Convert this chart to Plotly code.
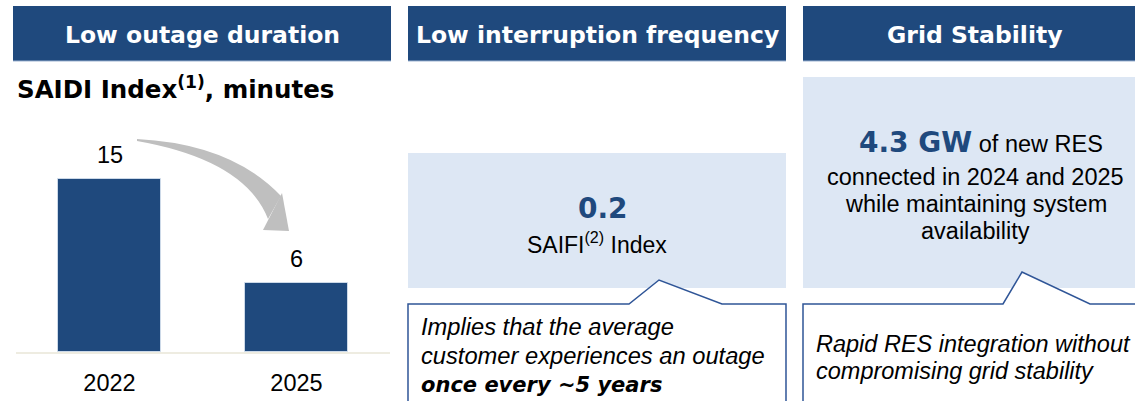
import plotly.graph_objects as go

W, H = 1135, 401

# ---------------- data ----------------
headers = ["Low outage duration", "Low interruption frequency", "Grid Stability"]
years = ["2022", "2025"]
saidi_minutes = [15, 6]
saifi_value = "0.2"
res_gw = "4.3 GW"

DARK = "#1F497D"
LIGHT = "#DDE7F4"
BORDER = "#2F5597"
GREY = "#BFBFBF"
REG = "Liberation Sans"
BOLD = "DejaVu Sans"


def px(x):
    return x / W


def py(y):
    return 1 - y / H


def path(points, close=True):
    s = "M " + " L ".join(f"{px(x):.5f},{py(y):.5f}" for x, y in points)
    return s + (" Z" if close else "")


fig = go.Figure()

fig.add_trace(go.Bar(
    x=years, y=saidi_minutes, width=0.556,
    marker=dict(color=DARK, line=dict(color="rgba(220,230,242,0.8)", width=1)),
    hoverinfo="skip",
))

shapes = []
annotations = []

# header boxes
boxes = [(13, 391), (408, 786), (803, 1145)]
centers = [202, 597, 975]
for (x0, x1), c, t in zip(boxes, centers, headers):
    shapes.append(dict(type="rect", xref="paper", yref="paper",
                       x0=px(x0), x1=px(x1), y0=py(61), y1=py(6),
                       fillcolor=DARK, line=dict(width=0), layer="below"))
    shapes.append(dict(type="line", xref="paper", yref="paper",
                       x0=px(x0), x1=px(x1), y0=py(61), y1=py(61),
                       line=dict(color="#9DB3D2", width=1)))
    annotations.append(dict(xref="paper", yref="paper", x=px(c), y=py(35),
                            xanchor="center", yanchor="middle", showarrow=False,
                            text=f"<b>{t}</b>",
                            font=dict(family=BOLD, size=23.5, color="white")))

# chart title
annotations.append(dict(xref="paper", yref="paper", x=px(15), y=py(87.5),
                        xanchor="left", yanchor="middle", showarrow=False,
                        text="<b>SAIDI Index<sup>(1)</sup>, minutes</b>",
                        font=dict(family=BOLD, size=24.5, color="black")))

# bar value labels (category axis -> use category index)
for i, v in enumerate(saidi_minutes):
    annotations.append(dict(xref="x", yref="y", x=i, y=v, yshift=24,
                            xanchor="center", yanchor="middle", showarrow=False,
                            text=str(v), font=dict(family=REG, size=23.5, color="black")))

# curved grey arrow
body = (f"M {px(137):.5f},{py(139):.5f} Q {px(232):.5f},{py(144):.5f} {px(281):.5f},{py(196):.5f} "
        f"L {px(268):.5f},{py(219):.5f} Q {px(245):.5f},{py(160):.5f} {px(137):.5f},{py(141):.5f} Z")
shapes.append(dict(type="path", xref="paper", yref="paper", path=body,
                   fillcolor=GREY, line=dict(width=0)))
shapes.append(dict(type="path", xref="paper", yref="paper",
                   path=path([(282, 193), (263, 230), (289, 231)]),
                   fillcolor=GREY, line=dict(width=0)))

# panel 2
shapes.append(dict(type="rect", xref="paper", yref="paper",
                   x0=px(408), x1=px(786), y0=py(288), y1=py(153),
                   fillcolor=LIGHT, line=dict(width=0), layer="below"))
shapes.append(dict(type="path", xref="paper", yref="paper",
                   path=path([(408, 410), (408, 304), (629, 304), (659, 280), (722, 304),
                              (786, 304), (786, 410)]),
                   fillcolor="white", line=dict(color=BORDER, width=1.5)))
annotations.append(dict(xref="paper", yref="paper", x=px(603), y=py(209),
                        xanchor="center", yanchor="middle", showarrow=False,
                        text=f"<b>{saifi_value}</b>",
                        font=dict(family=BOLD, size=28, color=DARK)))
annotations.append(dict(xref="paper", yref="paper", x=px(597), y=py(242.5),
                        xanchor="center", yanchor="middle", showarrow=False,
                        text="SAIFI<sup>(2)</sup> Index",
                        font=dict(family=REG, size=23, color="black")))
for yy, t in [(327, "<i>Implies that the average</i>"),
              (356, "<i>customer experiences an outage</i>"),
              (385, "<span style=\"font-family:'DejaVu Sans'\"><b><i>once every ~5 years</i></b></span>")]:
    fs = 23.7 if "DejaVu" not in t else 21
    annotations.append(dict(xref="paper", yref="paper", x=px(419), y=py(yy),
                            xanchor="left", yanchor="middle", showarrow=False,
                            text=t, font=dict(family=REG, size=fs, color="black")))

# panel 3
shapes.append(dict(type="rect", xref="paper", yref="paper",
                   x0=px(803), x1=px(1145), y0=py(288), y1=py(77),
                   fillcolor=LIGHT, line=dict(width=0), layer="below"))
shapes.append(dict(type="path", xref="paper", yref="paper",
                   path=path([(803, 410), (803, 304), (1003, 304), (1022, 272), (1090, 304),
                              (1145, 304), (1145, 410)]),
                   fillcolor="white", line=dict(color=BORDER, width=1.5)))
annotations.append(dict(xref="paper", yref="paper", x=px(981), y=py(142.5),
                        xanchor="center", yanchor="middle", showarrow=False,
                        text=(f"<span style=\"font-family:'DejaVu Sans';font-size:28px;color:{DARK}\">"
                              f"<b>{res_gw}</b></span> of new RES"),
                        font=dict(family=REG, size=23.5, color="black")))
for yy, t in [(177, "connected in 2024 and 2025"),
              (203.5, "while maintaining system"),
              (231.5, "availability")]:
    annotations.append(dict(xref="paper", yref="paper", x=px(975.5), y=py(yy),
                            xanchor="center", yanchor="middle", showarrow=False,
                            text=t, font=dict(family=REG, size=23.5, color="black")))
for yy, t in [(344, "<i>Rapid RES integration without</i>"),
              (371, "<i>compromising grid stability</i>")]:
    annotations.append(dict(xref="paper", yref="paper", x=px(814), y=py(yy),
                            xanchor="left", yanchor="middle", showarrow=False,
                            text=t, font=dict(family=REG, size=23.5, color="black")))

fig.update_layout(
    width=W, height=H, autosize=False,
    margin=dict(l=0, r=0, t=0, b=0, pad=0),
    paper_bgcolor="white", plot_bgcolor="white",
    showlegend=False,
    shapes=shapes, annotations=annotations,
    xaxis=dict(domain=[px(16), px(390)], type="category", range=[-0.5, 1.5],
               showline=True, linecolor="#EEECE1", linewidth=2, showgrid=False,
               zeroline=False, ticks="", ticklabelstandoff=9,
               tickfont=dict(family=REG, size=23.5, color="black"), fixedrange=True),
    yaxis=dict(domain=[py(352), py(121)], range=[0, 20], visible=False, fixedrange=True),
    bargap=0,
)

fig.write_html("out.html", config={"displayModeBar": False},
               post_script="document.body.style.margin='0px';document.body.style.overflow='hidden';")
